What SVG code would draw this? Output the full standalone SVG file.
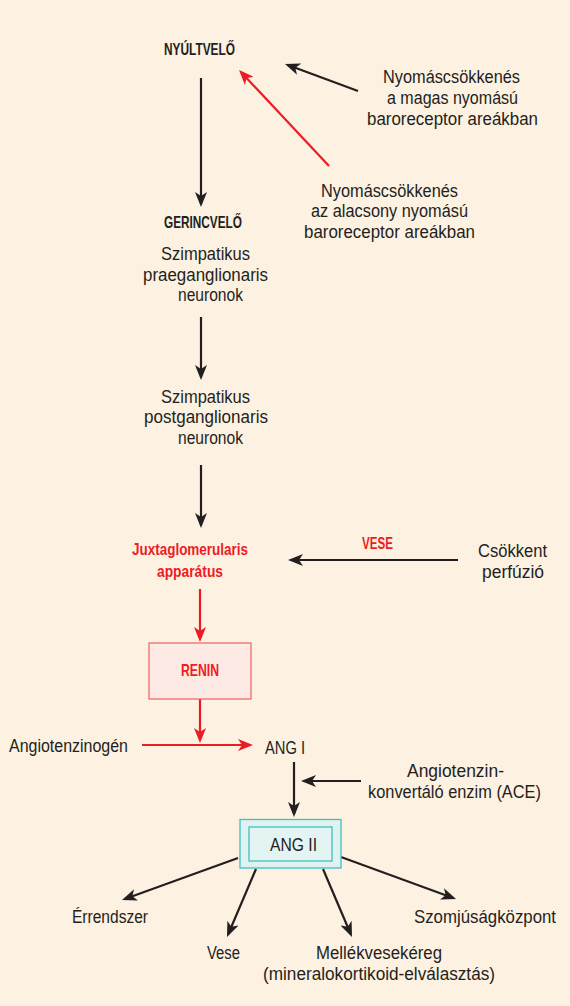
<svg xmlns="http://www.w3.org/2000/svg" width="570" height="1006" viewBox="0 0 570 1006">
<defs>
<marker id="ab" viewBox="0 0 15 12" refX="12" refY="6" markerWidth="15" markerHeight="12" markerUnits="userSpaceOnUse" orient="auto">
<path d="M0,0 L15,6 L0,12 L4,6 Z" fill="#231f20"/>
</marker>
<marker id="ar" viewBox="0 0 15 12" refX="12" refY="6" markerWidth="15" markerHeight="12" markerUnits="userSpaceOnUse" orient="auto">
<path d="M0,0 L15,6 L0,12 L4,6 Z" fill="#ed1c24"/>
</marker>
</defs>
<style>
text{font-family:"Liberation Sans",Arial,sans-serif;font-size:17.5px;fill:#231f20}
.b{font-weight:bold;font-size:16.5px}
.r{fill:#ed1c24}
.lb{stroke:#231f20;stroke-width:2.2;fill:none;marker-end:url(#ab)}
.lr{stroke:#ed1c24;stroke-width:2.2;fill:none;marker-end:url(#ar)}
</style>
<rect width="570" height="1006" fill="#fdf1e2"/>
<g id="connectors">
<line class="lb" x1="201" y1="78" x2="201" y2="204"/>
<line class="lb" x1="358" y1="91" x2="287.8" y2="65"/>
<line class="lr" x1="329" y1="166" x2="241.1" y2="72.2"/>
<line class="lb" x1="201" y1="317" x2="201" y2="377"/>
<line class="lb" x1="201" y1="465" x2="201" y2="525"/>
<line class="lb" x1="458" y1="560" x2="291" y2="560"/>
<line class="lr" x1="200" y1="589" x2="200" y2="639"/>
<line class="lr" x1="200" y1="699" x2="200" y2="740"/>
<line class="lr" x1="142" y1="745" x2="250" y2="745"/>
<line class="lb" x1="294" y1="762" x2="294" y2="814"/>
<line class="lb" x1="361" y1="781" x2="304" y2="781"/>
<line class="lb" x1="238" y1="858" x2="124.8" y2="899"/>
<line class="lb" x1="256" y1="869" x2="228.2" y2="934.2"/>
<line class="lb" x1="323" y1="869" x2="350.8" y2="934.2"/>
<line class="lb" x1="341" y1="857" x2="453.2" y2="898"/>
</g>
<g id="nyultvelo"><text class="b" x="164" y="55" textLength="71" lengthAdjust="spacingAndGlyphs">NYÚLTVELŐ</text></g>
<g id="magas">
<text x="383" y="83" textLength="137" lengthAdjust="spacingAndGlyphs">Nyomáscsökkenés</text>
<text x="387" y="104" textLength="131" lengthAdjust="spacingAndGlyphs">a magas nyomású</text>
<text x="367" y="125" textLength="171" lengthAdjust="spacingAndGlyphs">baroreceptor areákban</text>
</g>
<g id="alacsony">
<text x="321" y="197" textLength="137" lengthAdjust="spacingAndGlyphs">Nyomáscsökkenés</text>
<text x="311" y="217" textLength="157" lengthAdjust="spacingAndGlyphs">az alacsony nyomású</text>
<text x="304" y="238" textLength="171" lengthAdjust="spacingAndGlyphs">baroreceptor areákban</text>
</g>
<g id="gerincvelo">
<text class="b" x="164" y="228" textLength="78" lengthAdjust="spacingAndGlyphs">GERINCVELŐ</text>
<text x="161" y="260" textLength="89" lengthAdjust="spacingAndGlyphs">Szimpatikus</text>
<text x="143" y="281" textLength="125" lengthAdjust="spacingAndGlyphs">praeganglionaris</text>
<text x="178" y="301" textLength="65" lengthAdjust="spacingAndGlyphs">neuronok</text>
</g>
<g id="postganglionaris">
<text x="161" y="403" textLength="89" lengthAdjust="spacingAndGlyphs">Szimpatikus</text>
<text x="144" y="423" textLength="124" lengthAdjust="spacingAndGlyphs">postganglionaris</text>
<text x="178" y="444" textLength="65" lengthAdjust="spacingAndGlyphs">neuronok</text>
</g>
<g id="juxta">
<text class="b r" x="132" y="555" textLength="116" lengthAdjust="spacingAndGlyphs">Juxtaglomerularis</text>
<text class="b r" x="157" y="577" textLength="66" lengthAdjust="spacingAndGlyphs">apparátus</text>
</g>
<g id="vese-label"><text class="b r" x="362" y="549" textLength="31" lengthAdjust="spacingAndGlyphs">VESE</text></g>
<g id="csokkent">
<text x="478" y="557" textLength="69" lengthAdjust="spacingAndGlyphs">Csökkent</text>
<text x="482" y="578" textLength="62" lengthAdjust="spacingAndGlyphs">perfúzió</text>
</g>
<g id="renin"><rect x="149" y="643" width="102" height="56" fill="#fdeae4" stroke="#ef5f66" stroke-width="1.2"/><text class="b r" x="181" y="676" textLength="38" lengthAdjust="spacingAndGlyphs">RENIN</text></g>
<g id="angiotenzinogen"><text x="9" y="752" textLength="119" lengthAdjust="spacingAndGlyphs">Angiotenzinogén</text></g>
<g id="ang1"><text x="265" y="754" textLength="40" lengthAdjust="spacingAndGlyphs">ANG I</text></g>
<g id="ace">
<text x="407" y="777" textLength="97" lengthAdjust="spacingAndGlyphs">Angiotenzin-</text>
<text x="368" y="798" textLength="173" lengthAdjust="spacingAndGlyphs">konvertáló enzim (ACE)</text>
</g>
<g id="ang2"><rect x="240" y="819.5" width="101" height="48.5" fill="#dff2f0" stroke="#3ec1c0" stroke-width="1.3"/><rect x="249" y="827" width="83" height="34" fill="#e4f4f3" stroke="#3ec1c0" stroke-width="1.3"/><text x="270" y="851" textLength="47" lengthAdjust="spacingAndGlyphs">ANG II</text></g>
<g id="errendszer"><text x="72" y="923" textLength="76" lengthAdjust="spacingAndGlyphs">Érrendszer</text></g>
<g id="vese"><text x="207" y="959" textLength="33" lengthAdjust="spacingAndGlyphs">Vese</text></g>
<g id="mellekvese">
<text x="316" y="959" textLength="126" lengthAdjust="spacingAndGlyphs">Mellékvesekéreg</text>
<text x="263" y="980" textLength="232" lengthAdjust="spacingAndGlyphs">(mineralokortikoid-elválasztás)</text>
</g>
<g id="szomjusag"><text x="414" y="923" textLength="142" lengthAdjust="spacingAndGlyphs">Szomjúságközpont</text></g>
</svg>
